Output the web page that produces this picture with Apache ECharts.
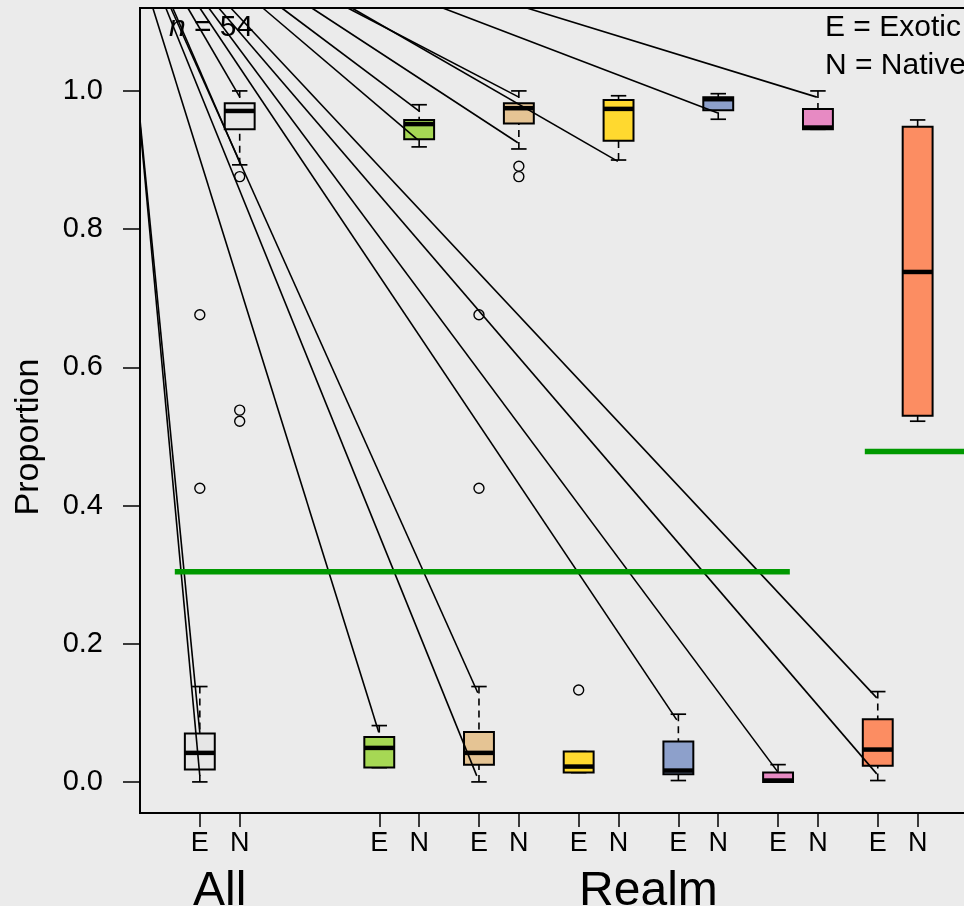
<!DOCTYPE html>
<html>
<head>
<meta charset="utf-8">
<script src="https://cdn.jsdelivr.net/npm/echarts@6/dist/echarts.min.js"></script>
<style>
html,body{margin:0;padding:0;background:#EBEBEB;}
#chart{width:964px;height:906px;}
</style>
</head>
<body>
<div id="chart"></div>
<script>
// ---- data ----
const xPositions = [1, 1.4, 2.8, 3.2, 3.8, 4.2, 4.8, 5.2, 5.8, 6.2, 6.8, 7.2, 7.8, 8.2];
const xTickLabels = ['E','N','E','N','E','N','E','N','E','N','E','N','E','N'];
const groupLabels = ['All', 'Realm'];
const groupCenters = [1.2, 5.5];
const yTickValues = [0, 0.2, 0.4, 0.6, 0.8, 1.0];

const boxLow    = [0.000, 0.893, 0.0207, 0.919, 0.000, 0.916, 0.0135, 0.900, 0.002, 0.959, 0.000, 0.9445, 0.002, 0.522];
const boxQ1     = [0.0178, 0.9445, 0.0207, 0.930, 0.025, 0.953, 0.0135, 0.928, 0.011, 0.972, 0.000, 0.9445, 0.0232, 0.530];
const boxMedian = [0.042, 0.971, 0.0492, 0.952, 0.042, 0.975, 0.0222, 0.974, 0.0164, 0.988, 0.002, 0.947, 0.0468, 0.738];
const boxQ3     = [0.070, 0.982, 0.0651, 0.958, 0.0724, 0.982, 0.0439, 0.987, 0.0583, 0.991, 0.0135, 0.974, 0.0907, 0.948];
const boxHigh   = [0.138, 1.000, 0.0815, 0.980, 0.138, 1.000, 0.0439, 0.993, 0.098, 0.996, 0.025, 1.000, 0.1307, 0.958];

const outlierX = [1, 1, 1.4, 1.4, 1.4, 3.8, 3.8, 4.2, 4.2, 4.8];
const outlierY = [0.676, 0.425, 0.876, 0.538, 0.522, 0.676, 0.425, 0.891, 0.876, 0.133];

const segX0 = [0.398, 0.398, 0.529, 0.659, 0.709, 1.0, 1.09, 1.19, 1.311, 0.880, 0.729, 1.632, 1.822, 2.123, 2.484, 2.525, 3.437, 4.28];
const segY0 = [0.954, 0.961, 1.12, 1.12, 1.12, 1.12, 1.12, 1.12, 1.12, 1.12, 1.12, 1.12, 1.12, 1.12, 1.12, 1.12, 1.12, 1.12];
const segX1 = [1.0, 1.0, 2.795, 3.778, 3.788, 5.784, 6.797, 7.790, 7.790, 1.401, 1.401, 3.187, 3.207, 4.19, 4.20, 5.193, 6.196, 7.189];
const segY1 = [0.0087, 0.071, 0.072, 0.0087, 0.129, 0.0897, 0.0145, 0.0116, 0.1216, 0.991, 0.896, 0.929, 0.970, 0.925, 0.991, 0.898, 0.968, 0.991];

const refX0 = [0.749, 7.67];
const refX1 = [6.918, 9.0];
const refY  = [0.304, 0.478];

// ---- styles ----
const groupFills = ['#E6E6E6', '#A6D854', '#E5C494', '#FFD92F', '#8DA0CB', '#E78AC3', '#FC8D62'];
const FONT = 'Liberation Sans, Arial, Helvetica, sans-serif';
const BOX_W = 0.30, CAP_W = 0.155;

const chart = echarts.init(document.getElementById('chart'), null, {renderer: 'canvas'});

const boxData = xPositions.map((x, i) => [x, boxLow[i], boxQ1[i], boxMedian[i], boxQ3[i], boxHigh[i]]);
const segData = segX0.map((x, i) => [x, segY0[i], segX1[i], segY1[i]]);
const refData = refX0.map((x, i) => [x, refY[i], refX1[i], refY[i]]);
const outData = outlierX.map((x, i) => [x, outlierY[i]]);

function segRender(color, width) {
  return function (params, api) {
    const p0 = api.coord([api.value(0), api.value(1)]);
    const p1 = api.coord([api.value(2), api.value(3)]);
    return {
      type: 'line',
      shape: {x1: p0[0], y1: p0[1], x2: p1[0], y2: p1[1]},
      style: {stroke: color, lineWidth: width, lineCap: 'butt'}
    };
  };
}

const option = {
  backgroundColor: '#EBEBEB',
  animation: false,
  grid: {
    left: 140, top: 8, width: 857.4, height: 805,
    containLabel: false, outerBoundsMode: 'none',
    show: true, borderColor: '#000', borderWidth: 2, backgroundColor: 'transparent'
  },
  xAxis: {
    type: 'value', min: 0.4, max: 9.0, position: 'bottom',
    splitLine: {show: false},
    axisLine: {show: false, onZero: false},
    axisTick: {show: true, inside: false, length: 14, customValues: xPositions,
      lineStyle: {color: '#000', width: 1.5}},
    axisLabel: {
      show: true, customValues: xPositions, margin: 31, verticalAlign: 'middle',
      color: '#000', fontSize: 27, fontFamily: FONT,
      formatter: function (v) {
        let best = 0, d = 1e9;
        xPositions.forEach((p, i) => { if (Math.abs(p - v) < d) { d = Math.abs(p - v); best = i; } });
        return xTickLabels[best];
      }
    }
  },
  yAxis: {
    type: 'value', min: -0.045, max: 1.12, position: 'left',
    splitLine: {show: false},
    axisLine: {show: false, onZero: false},
    axisTick: {show: true, inside: false, length: 17, customValues: yTickValues,
      lineStyle: {color: '#000', width: 1.5}},
    axisLabel: {
      show: true, customValues: yTickValues, margin: 37,
      color: '#000', fontSize: 29, fontFamily: FONT, padding: [3, 0, 0, 0],
      formatter: v => Number(v).toFixed(1)
    }
  },
  series: [
    {
      type: 'custom', name: 'boxes', z: 2,
      data: boxData,
      encode: {x: 0, y: [1, 2, 3, 4, 5]},
      renderItem: function (params, api) {
        const i = params.dataIndex;
        const x = api.value(0);
        const pLo = api.coord([x, api.value(1)]);
        const pQ1 = api.coord([x, api.value(2)]);
        const pMd = api.coord([x, api.value(3)]);
        const pQ3 = api.coord([x, api.value(4)]);
        const pHi = api.coord([x, api.value(5)]);
        const hw = api.size([BOX_W, 0])[0] / 2;
        const cw = api.size([CAP_W, 0])[0] / 2;
        const cx = pLo[0];
        const fill = groupFills[Math.floor(i / 2)];
        const dash = {stroke: '#000', lineWidth: 1.6, lineDash: [7, 5]};
        const solid = {stroke: '#000', lineWidth: 1.7};
        return {
          type: 'group',
          children: [
            {type: 'line', shape: {x1: cx, y1: pHi[1], x2: cx, y2: pQ3[1]}, style: dash},
            {type: 'line', shape: {x1: cx, y1: pLo[1], x2: cx, y2: pQ1[1]}, style: dash},
            {type: 'line', shape: {x1: cx - cw, y1: pHi[1], x2: cx + cw, y2: pHi[1]}, style: solid},
            {type: 'line', shape: {x1: cx - cw, y1: pLo[1], x2: cx + cw, y2: pLo[1]}, style: solid},
            {type: 'rect', shape: {x: cx - hw, y: pQ3[1], width: 2 * hw, height: pQ1[1] - pQ3[1]},
              style: {fill: fill, stroke: '#000', lineWidth: 2}},
            {type: 'line', shape: {x1: cx - hw, y1: pMd[1], x2: cx + hw, y2: pMd[1]},
              style: {stroke: '#000', lineWidth: 4.5}}
          ]
        };
      }
    },
    {
      type: 'scatter', name: 'outliers', z: 2,
      data: outData,
      symbol: 'circle', symbolSize: 10,
      itemStyle: {color: 'rgba(0,0,0,0)', borderColor: '#000', borderWidth: 1.4, opacity: 1}
    },
    {
      type: 'custom', name: 'segments', z: 3,
      data: segData,
      encode: {x: [0, 2], y: [1, 3]},
      renderItem: segRender('#000', 1.6)
    },
    {
      type: 'custom', name: 'reference', z: 4,
      data: refData,
      encode: {x: [0, 2], y: [1, 3]},
      renderItem: segRender('#009900', 5.5)
    }
  ]
};

chart.setOption(option);

const graphics = [];
groupLabels.forEach((g, k) => {
  const px = chart.convertToPixel({gridIndex: 0}, [groupCenters[k], 0]);
  graphics.push({
    type: 'text', x: px[0], y: 892,
    style: {text: g, fontSize: 48, fontFamily: FONT, fill: '#000', align: 'center', verticalAlign: 'middle'}
  });
});
graphics.push({
  type: 'text', x: 29, y: 437, rotation: Math.PI / 2,
  style: {text: 'Proportion', fontSize: 34, fontFamily: FONT, fill: '#000', align: 'center', verticalAlign: 'middle'}
});
graphics.push({
  type: 'text', x: 169, y: 28, z: 10,
  style: {
    text: '{i|n} = 54', fontSize: 30, fontFamily: FONT, fill: '#000', align: 'left', verticalAlign: 'middle',
    rich: {i: {fontStyle: 'italic', fontSize: 30, fontFamily: FONT, fill: '#000'}}
  }
});
graphics.push({
  type: 'text', x: 825, y: 28, z: 10,
  style: {text: 'E = Exotic', fontSize: 30, fontFamily: FONT, fill: '#000', align: 'left', verticalAlign: 'middle'}
});
graphics.push({
  type: 'text', x: 825, y: 66, z: 10,
  style: {text: 'N = Native', fontSize: 30, fontFamily: FONT, fill: '#000', align: 'left', verticalAlign: 'middle'}
});
chart.setOption({graphic: graphics});
</script>
</body>
</html>
